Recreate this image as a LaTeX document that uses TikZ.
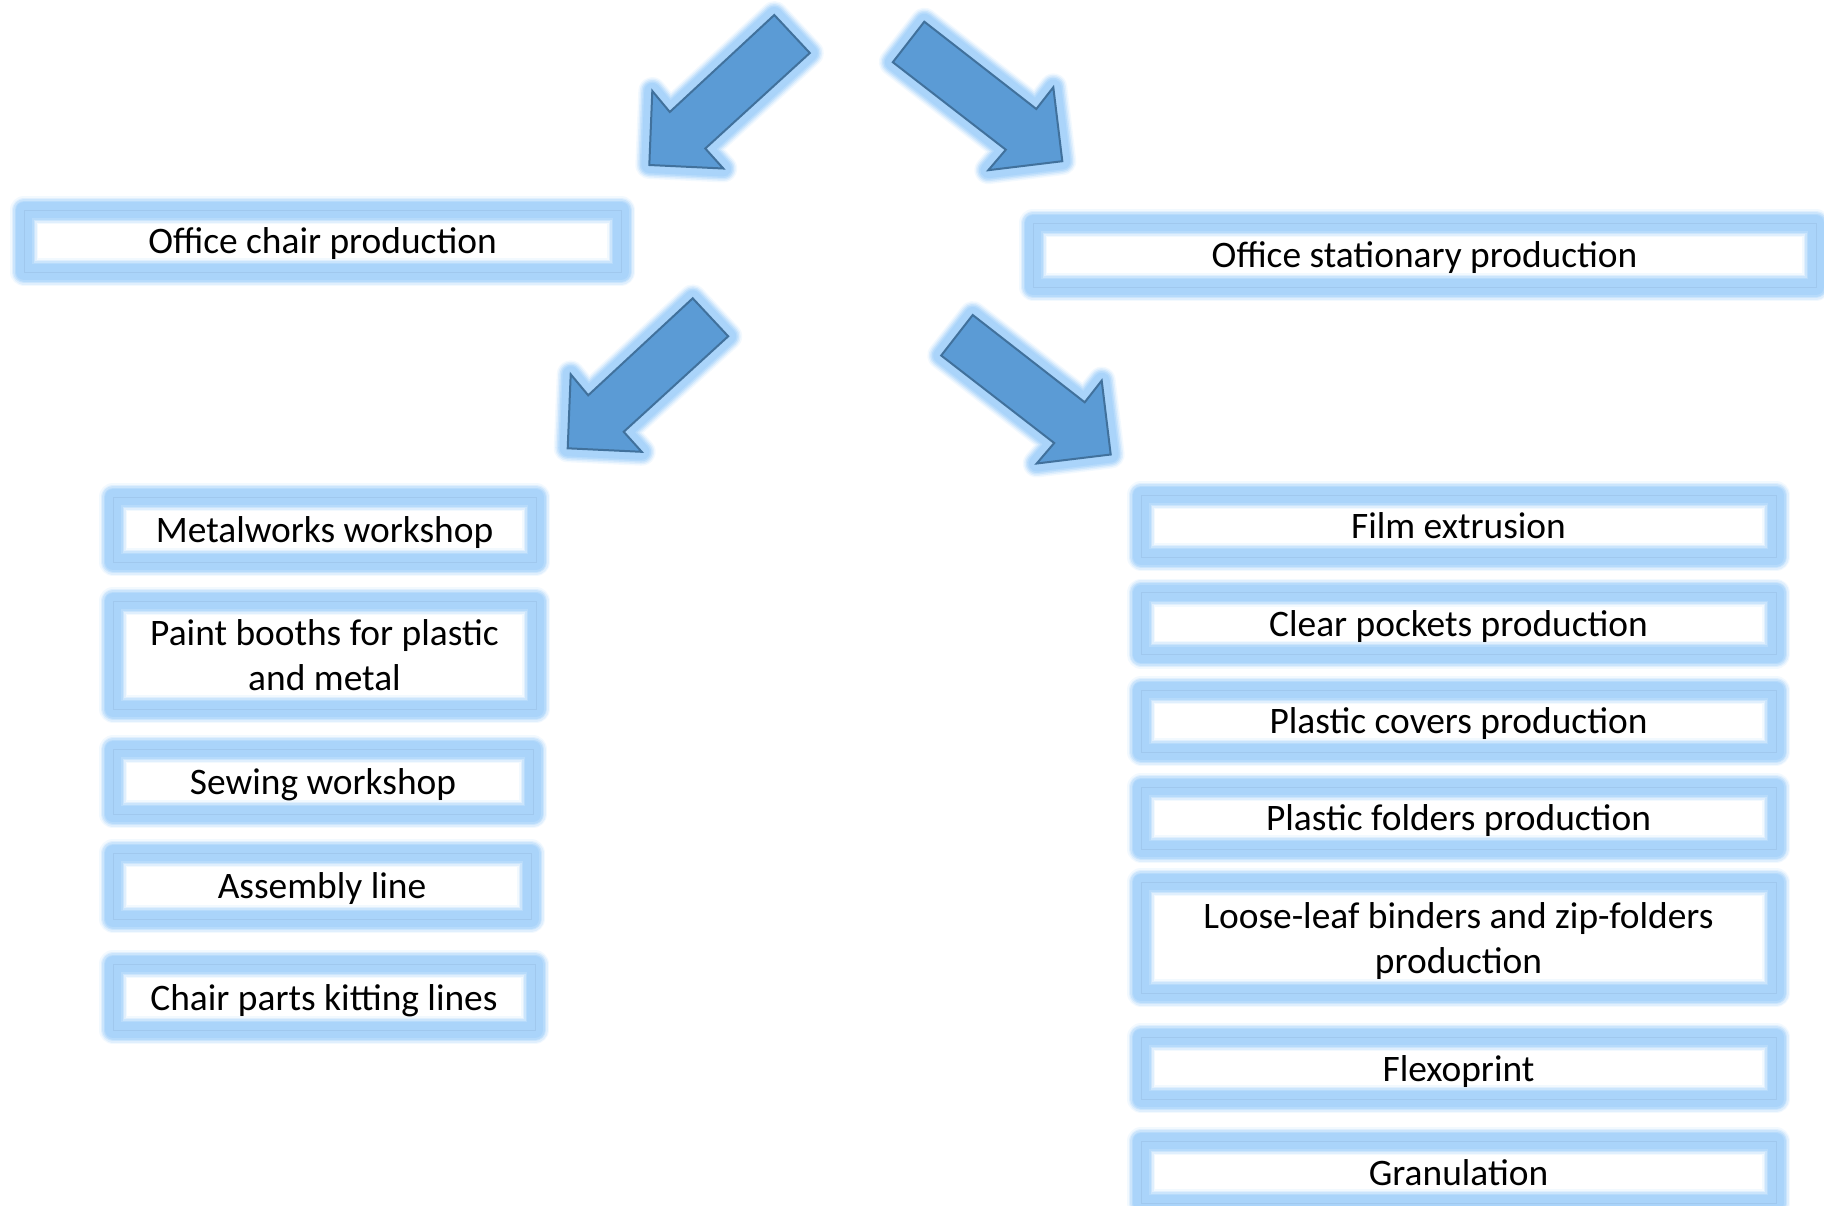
\documentclass[tikz,border=0pt]{standalone}
\usepackage{fontspec}
\setmainfont{Carlito}
\definecolor{glowblue}{RGB}{170,212,250}
\definecolor{arrowfill}{RGB}{91,155,213}
\definecolor{arrowline}{RGB}{65,113,156}
\definecolor{boxline}{RGB}{160,200,238}

\tikzset{
  softglow/.style={
    preaction={draw=glowblue,line width=14pt,draw opacity=0.15,line join=round},
    preaction={draw=glowblue,line width=12.5pt,draw opacity=0.25,line join=round},
    preaction={draw=glowblue,line width=11pt,draw opacity=0.4,line join=round},
    preaction={draw=glowblue,line width=9.5pt,draw opacity=0.6,line join=round},
    preaction={draw=glowblue,line width=8pt,line join=round}},
  basebox/.style={softglow,draw=boxline,line width=0.3pt,align=center,inner sep=0pt,
    font=\fontsize{18.7}{22.5}\selectfont},
  unitbox/.style={basebox,text depth=0pt},
  pairbox/.style={basebox},
  blockarrow/.style={softglow,fill=arrowfill,draw=arrowline,line width=1pt},
}

\begin{document}
\begin{tikzpicture}[x=0.5pt,y=0.5pt,yscale=-1,xscale=1]
\useasboundingbox (0,0) rectangle (1824,1205);

%Block Arrows pointing down-left
\foreach \ax/\ay in {774.3/15,692.7/298.3}
  \draw [blockarrow,shift={(\ax,\ay)}] (0,0) -- (35.5,38) -- (-69,133.5) -- (-51,153.5) -- (-125,150) -- (-122,76) -- (-104.5,97) -- cycle ;
%Block Arrows pointing down-right
\foreach \ax/\ay in {924.3/21.7,972.7/315}
  \draw [blockarrow,shift={(\ax,\ay)}] (0,0) -- (-31.5,40.5) -- (81.5,128) -- (64,148.5) -- (138,139.5) -- (129,65.6) -- (112,87.3) -- cycle ;

% Text Node
\node [unitbox,minimum width=298.5pt,minimum height=31pt] (chair) at (322.5,241) {Office chair production};
% Text Node
\node [unitbox,minimum width=391.5pt,minimum height=32pt] (stationary) at (1424.5,255) {Office stationary production};

% Text Node
\node [unitbox,minimum width=211.5pt,minimum height=32.5pt] (metal) at (324.5,529.5) {Metalworks workshop};
% Text Node
\node [pairbox,minimum width=211.5pt,minimum height=54pt] (paint) at (324.5,655) {Paint booths for plastic\\and metal};
% Text Node
\node [unitbox,minimum width=210pt,minimum height=32.5pt] (sewing) at (323,781.8) {Sewing workshop};
% Text Node
\node [unitbox,minimum width=209pt,minimum height=33pt] (assembly) at (322,886) {Assembly line};
% Text Node
\node [unitbox,minimum width=211pt,minimum height=33pt] (kitting) at (324,997) {Chair parts kitting lines};

% Text Node
\node [unitbox,minimum width=317.5pt,minimum height=31pt] (film) at (1458.5,526) {Film extrusion};
% Text Node
\node [unitbox,minimum width=317.5pt,minimum height=31pt] (pockets) at (1458.5,623.5) {Clear pockets production};
% Text Node
\node [unitbox,minimum width=317.5pt,minimum height=31pt] (covers) at (1458.5,721) {Plastic covers production};
% Text Node
\node [unitbox,minimum width=317.5pt,minimum height=31pt] (folders) at (1458.5,818) {Plastic folders production};
% Text Node
\node [pairbox,minimum width=317.5pt,minimum height=55.5pt] (binders) at (1458.5,937.5) {Loose-leaf binders and zip-folders\\\raisebox{0pt}[\height][0pt]{production}};
% Text Node
\node [unitbox,minimum width=317.5pt,minimum height=31pt] (flexo) at (1458.5,1068) {Flexoprint};
% Text Node
\node [unitbox,minimum width=317.5pt,minimum height=31pt] (granul) at (1458.5,1172) {Granulation};

\end{tikzpicture}
\end{document}
